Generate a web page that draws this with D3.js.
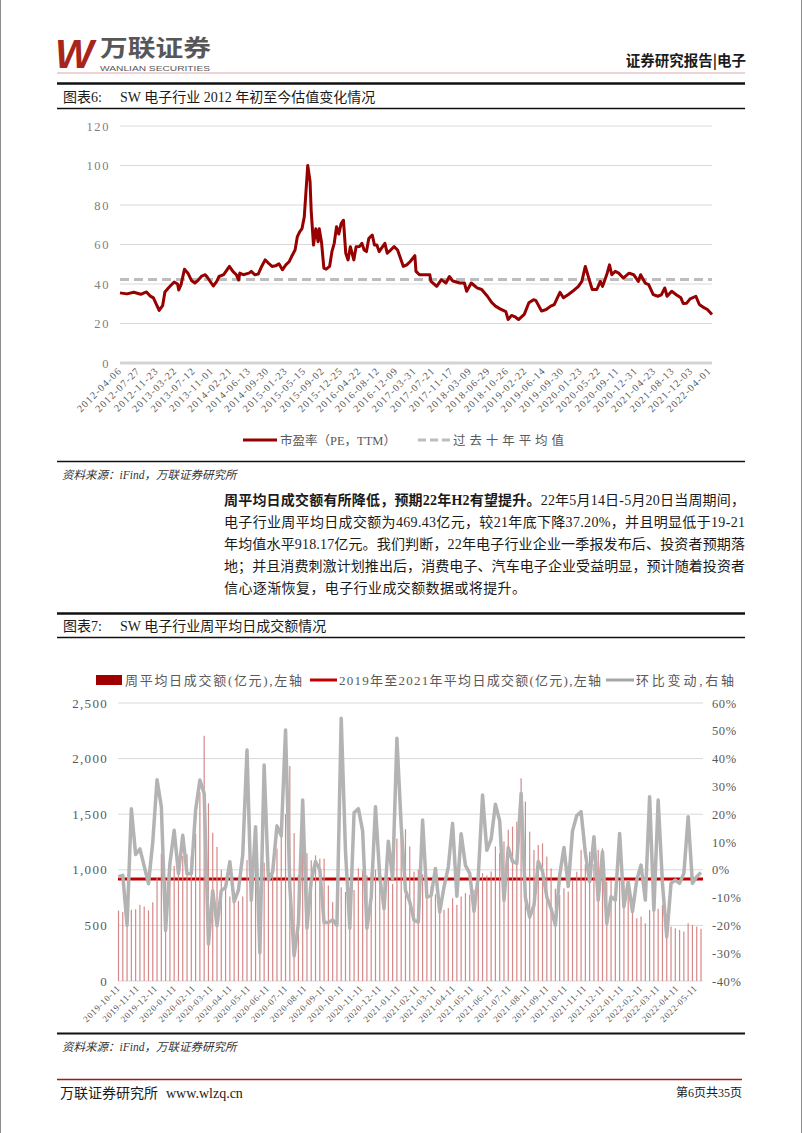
<!DOCTYPE html>
<html><head><meta charset="utf-8">
<script src="https://cdn.jsdelivr.net/npm/d3@7"></script>
<style>
html,body{margin:0;padding:0;background:#fff;}
svg{display:block;}
</style></head><body>
<svg id="page" width="802" height="1133"></svg>
<script>
// ---------------- DATA ----------------
// Chart 6: weekly PE (TTM), category index (weeks from 2012-04-06) and value
const peLabels = ["2012-04-06","2012-07-27","2012-11-23","2013-03-22","2013-07-12","2013-11-01","2014-02-21","2014-06-13","2014-09-30","2015-01-23","2015-05-15","2015-09-02","2015-12-25","2016-04-22","2016-08-12","2016-12-09","2017-03-31","2017-07-21","2017-11-17","2018-03-09","2018-06-29","2018-10-26","2019-02-22","2019-06-14","2019-09-30","2020-01-23","2020-05-22","2020-09-11","2020-12-31","2021-04-23","2021-08-13","2021-12-03","2022-04-01"];
const peLabelStep = 16;
const peLastIndex = 514;
const peWeek = [0,6,12,18,23,26,29,34,37,39,42,47,50,51,53,56,59,62,65,68,71,74,76,81,84,86,90,95,98,101,103,104,107,112,114,117,120,123,126,129,132,135,138,141,144,147,149,152,154,156,158,160,163,165,166,168,170,172,173,175,177,179,182,184,186,188,190,192,194,196,198,200,203,205,208,210,212,214,216,219,221,223,225,228,230,232,235,238,241,243,246,249,252,256,257,260,269,270,275,279,283,286,289,295,299,301,305,310,314,319,323,326,330,335,337,340,343,346,351,355,359,361,366,370,374,377,382,385,389,393,398,401,404,407,410,414,417,419,423,425,427,430,433,437,442,446,450,452,456,459,463,467,470,473,475,479,483,487,489,492,495,500,503,507,510,514];
const peValue = [35.5,35,35.8,34.8,36,34,33,26.6,29,36,38,41,40,37,39.7,47.5,45.5,41.8,40.5,42,44,44.7,43.3,39,41.3,43.8,44.7,48.9,46.4,44.7,42,45.5,44.7,45.5,46.4,44.7,45,48.9,52.2,50.5,48.9,49.2,50.2,47.2,49.7,51.4,53.9,57.2,64,66.4,68,74,100,92,77,59.7,68,61.4,68,61,48,47.5,48.9,56.4,60.6,69,65.3,70.6,72.3,55.6,52.2,58.9,52.2,58.9,59,60.6,57.2,56.4,63,64.8,59.7,59.7,56.4,58.9,60.6,55.6,57.2,58.9,57.2,53.9,48.9,49.7,51.4,54.4,46.4,44.7,44.7,41.3,38.8,42.2,40.5,43.8,41.5,40.5,40.5,36.3,40.5,38,37.2,33.8,30.5,28.8,27.4,26,22,24.1,23.4,22,24.6,30.5,32,31.7,26.3,27.1,28.8,29.6,35.8,33,34.6,36.3,38.8,41.3,48.9,43,37.2,37.2,41.3,38.8,45.5,49.7,44.7,46.4,45.5,43,45.5,44.7,41.3,44.7,40.5,39.7,34.6,33.8,34.5,38,33.8,36.3,34.6,33,30.1,30.3,32.5,33.8,29.6,28,27.1,24.6];
const peMean = 42.3;
const peYTicks = [0,20,40,60,80,100,120];

// Chart 7: weekly average daily turnover (亿元) and week-on-week change (%)
const tradeStart = "2019-10-11";
const tradeValues = [633,620,520,640,645,685,670,635,708,935,
 1145,900,920,1035,1030,1125,1140,1120,1325,1700,
 2205,1598,1333,1206,1000,880,760,740,720,760,
 1088,980,1100,800,1064,1060,1050,1190,1340,1500,
 1934,1330,950,1192,1150,1085,1130,1100,1100,860,
 710,850,843,800,834,818,1013,994,950,980,
 1000,950,900,920,873,1280,1300,1365,1210,983,
 1000,960,900,850,780,720,640,655,745,685,
 760,790,775,820,865,970,950,985,1210,1150,
 1255,1360,1388,1433,1823,1613,1343,1178,1223,1238,
 1118,1013,830,774,834,804,900,983,1178,1050,
 1163,1050,1178,1193,893,900,760,900,908,789,
 700,564,579,519,639,669,650,684,600,489,
 474,459,444,519,504,489,469];
const tradeChange = [-2.5,-2,-20,22,5.5,7.5,1.3,-5,10,32.4,
 22.7,-21.8,2.2,14.2,-1.4,12.4,-1.4,-1.4,21.4,32.3,
 27.5,-26.7,-7.5,-20.1,-7.5,-6.3,2.9,-11.5,-7.3,5.3,
 43.1,-10.9,15.5,-29.8,37.7,-3.7,-0.7,15.8,12.2,50.3,
 -6.1,-31,-19.3,25.1,-21,-4,3,0,-19,-19,
 -18,-20,54.5,6.5,-21,20.5,22,14,-21,-10,
 22.7,-2.6,-14,10.3,-3.2,47.3,16,-7.4,-11.5,-18.2,
 -18.8,17.9,-9.8,-9.2,0.5,-15.2,-6.2,1,16.7,-9.5,
 13,1.6,-1.3,-14.9,-2.3,26.9,7,11,23.6,17.6,
 -11,8,3,2.3,27.5,-10,-17,-12.8,3,-0.5,
 -9.8,-14,-20,-2,8,-6,14,19.5,20.9,6,
 -4.3,11.9,-10.9,6.5,-19.3,-9.7,-10.9,13.1,-13.3,-4.3,
 -15,-3.7,1.7,-10.9,26.3,-14.5,25.1,-4.9,-24.1,-4.9,
 -3.7,-4.9,-1.3,19.1,-4.9,-2.5,-1];
const tradeMean = 918.17;
const tradeLabels = ["2019-10-11","2019-11-11","2019-12-11","2020-01-11","2020-02-11","2020-03-11","2020-04-11","2020-05-11","2020-06-11","2020-07-11","2020-08-11","2020-09-11","2020-10-11","2020-11-11","2020-12-11","2021-01-11","2021-02-11","2021-03-11","2021-04-11","2021-05-11","2021-06-11","2021-07-11","2021-08-11","2021-09-11","2021-10-11","2021-11-11","2021-12-11","2022-01-11","2022-02-11","2022-03-11","2022-04-11","2022-05-11"];
const leftTicks = [0,500,1000,1500,2000,2500];
const rightTicks = [-40,-30,-20,-10,0,10,20,30,40,50,60];

// ---------------- DRAW ----------------
const svg = d3.select("#page");
const SERIF = '"Liberation Serif","Noto Sans CJK SC",serif';
const CJK = '"Noto Sans CJK SC","Liberation Serif",sans-serif';
const TXT = "#595959";

function txt(g, x, y, s, o) {
  const t = g.append("text").attr("x", x).attr("y", y).text(s);
  for (const k in (o || {})) t.attr(k, o[k]);
  return t;
}
function hline(g, x1, x2, y, stroke, w, extra) {
  const l = g.append("line").attr("x1", x1).attr("x2", x2).attr("y1", y).attr("y2", y)
    .attr("stroke", stroke).attr("stroke-width", w);
  for (const k in (extra || {})) l.attr(k, extra[k]);
  return l;
}

// page edges
svg.append("line").attr("x1",0.5).attr("x2",0.5).attr("y1",0).attr("y2",1133).attr("stroke","#8c8c8c");
svg.append("line").attr("x1",801.5).attr("x2",801.5).attr("y1",0).attr("y2",1133).attr("stroke","#8c8c8c");

// header
txt(svg, 55, 68, "W", {"font-family":"Liberation Sans","font-weight":"bold","font-style":"italic","font-size":41,"fill":"#a8251d"});
txt(svg, 100, 55.5, "万联证券", {"font-family":CJK,"font-weight":"bold","font-size":23,"fill":"#575757","textLength":111,"lengthAdjust":"spacingAndGlyphs"});
txt(svg, 100, 70.5, "WANLIAN SECURITIES", {"font-family":"Liberation Sans","font-size":8,"fill":"#575757","textLength":110,"lengthAdjust":"spacingAndGlyphs"});
txt(svg, 746, 66, "证券研究报告|电子", {"font-family":CJK,"font-weight":"bold","font-size":14.5,"fill":"#1a1a1a","text-anchor":"end"});
hline(svg, 57, 745, 73, "#dba9a9", 1);

// ---------- Chart 6 title ----------
hline(svg, 57, 745, 83.5, "#111", 2.5);
txt(svg, 63, 102, "图表6:", {"font-family":SERIF,"font-size":14,"fill":"#1a1a1a"});
txt(svg, 120, 102, "SW 电子行业 2012 年初至今估值变化情况", {"font-family":SERIF,"font-size":14,"fill":"#1a1a1a"});
hline(svg, 57, 745, 108.5, "#111", 1.5);

// ---------- Chart 6 ----------
const c1 = svg.append("g");
const x1 = d3.scaleLinear().domain([0, peLastIndex]).range([120, 712]);
const y1 = d3.scaleLinear().domain([0, 120]).range([363, 126]);

c1.selectAll("line.grid").data(peYTicks.filter(d => d > 0)).join("line")
  .attr("x1", x1(0)).attr("x2", x1(peLastIndex))
  .attr("y1", d => y1(d)).attr("y2", d => y1(d))
  .attr("stroke", "#d9d9d9").attr("stroke-width", 1);
hline(c1, x1(0), x1(peLastIndex), y1(0), "#d4d4d4", 3);

const yAx1 = c1.append("g").attr("transform", "translate(110,0)")
  .call(d3.axisLeft(y1).tickValues(peYTicks).tickSize(0).tickPadding(0));
yAx1.select(".domain").remove();
yAx1.selectAll("text").attr("font-family", SERIF).attr("font-size", 12.5)
  .attr("fill", "#808080").attr("letter-spacing", 1.6);

const peTickIdx = peLabels.map((d, i) => i * peLabelStep);
const xAx1 = c1.append("g").attr("transform", `translate(0,${y1(0) + 5})`)
  .call(d3.axisBottom(x1).tickValues(peTickIdx).tickSize(0).tickPadding(0).tickFormat((d, i) => peLabels[i]));
xAx1.select(".domain").remove();
xAx1.selectAll("text").attr("font-family", SERIF).attr("font-size", 10.2)
  .attr("fill", TXT).attr("letter-spacing", 1.1)
  .attr("text-anchor", "end").attr("y", 0).attr("dy", "0.35em").attr("x", -1)
  .attr("transform", "rotate(-45)");

hline(c1, x1(0), x1(peLastIndex), y1(peMean), "#bdbdbd", 3, {"stroke-dasharray":"9,5"});

const peLine = d3.line().x((d, i) => x1(peWeek[i])).y(d => y1(d));
c1.append("path").attr("d", peLine(peValue)).attr("fill", "none")
  .attr("stroke", "#960000").attr("stroke-width", 3).attr("stroke-linejoin", "round");

// legend 1
hline(c1, 243, 277, 440, "#960000", 3);
txt(c1, 280, 444.5, "市盈率（PE，TTM）", {"font-family":SERIF,"font-size":12.5,"fill":TXT,"textLength":116});
hline(c1, 418, 450, 440, "#bdbdbd", 3, {"stroke-dasharray":"8,4"});
txt(c1, 453, 444.5, "过去十年平均值", {"font-family":SERIF,"font-size":12.5,"fill":TXT,"textLength":111});

hline(svg, 57, 745, 461.5, "#111", 1.5);
txt(svg, 62, 479, "资料来源：iFind，万联证券研究所", {"font-family":SERIF,"font-size":11.5,"font-style":"italic","fill":"#333"});

// ---------- Paragraph ----------
const para = svg.append("g").attr("font-family", SERIF).attr("font-size", 14).attr("fill", "#1a1a1a");
const p1 = para.append("text").attr("x", 224).attr("y", 505).attr("textLength", 521).attr("lengthAdjust", "spacing");
p1.append("tspan").attr("font-weight", "bold").text("周平均日成交额有所降低，预期22年H2有望提升。");
p1.append("tspan").text("22年5月14日-5月20日当周期间，");
txt(para, 224, 527, "电子行业周平均日成交额为469.43亿元，较21年底下降37.20%，并且明显低于19-21", {"textLength":521,"lengthAdjust":"spacing"});
txt(para, 224, 549, "年均值水平918.17亿元。我们判断，22年电子行业企业一季报发布后、投资者预期落", {"textLength":521,"lengthAdjust":"spacing"});
txt(para, 224, 571, "地；并且消费刺激计划推出后，消费电子、汽车电子企业受益明显，预计随着投资者", {"textLength":521,"lengthAdjust":"spacing"});
txt(para, 224, 593, "信心逐渐恢复，电子行业成交额数据或将提升。", {"letter-spacing":0.4});

// ---------- Chart 7 title ----------
hline(svg, 57, 745, 613.5, "#111", 2.5);
txt(svg, 63, 631, "图表7:", {"font-family":SERIF,"font-size":14,"fill":"#1a1a1a"});
txt(svg, 120, 631, "SW 电子行业周平均日成交额情况", {"font-family":SERIF,"font-size":14,"fill":"#1a1a1a"});
hline(svg, 57, 745, 637.5, "#111", 1.5);

// ---------- Chart 7 ----------
const c2 = svg.append("g");
const parse = d3.timeParse("%Y-%m-%d");
const t0 = parse(tradeStart);
const tradeDates = tradeValues.map((v, i) => d3.timeDay.offset(t0, 7 * i));
const x2 = d3.scaleTime().domain([t0, tradeDates[tradeDates.length - 1]]).range([118.5, 701]);
const yL = d3.scaleLinear().domain([0, 2500]).range([981, 703]);
const yR = d3.scaleLinear().domain([-40, 60]).range([981, 703]);
const L2 = 118, R2 = 703;

c2.selectAll("line.grid").data(leftTicks.filter(d => d > 0)).join("line")
  .attr("x1", L2).attr("x2", R2).attr("y1", d => yL(d)).attr("y2", d => yL(d))
  .attr("stroke", "#d9d9d9").attr("stroke-width", 1);
hline(c2, L2, R2, yL(0), "#d9d9d9", 1);

const yAxL = c2.append("g").attr("transform", "translate(108,0)")
  .call(d3.axisLeft(yL).tickValues(leftTicks).tickSize(0).tickPadding(0).tickFormat(d3.format(",")));
yAxL.select(".domain").remove();
yAxL.selectAll("text").attr("font-family", SERIF).attr("font-size", 13)
  .attr("fill", TXT).attr("letter-spacing", 1.3);

const yAxR = c2.append("g").attr("transform", "translate(712,0)")
  .call(d3.axisRight(yR).tickValues(rightTicks).tickSize(0).tickPadding(0).tickFormat(d => d + "%"));
yAxR.select(".domain").remove();
yAxR.selectAll("text").attr("font-family", SERIF).attr("font-size", 12.5)
  .attr("fill", TXT).attr("letter-spacing", 0.6);

const xAx2 = c2.append("g").attr("transform", `translate(0,${yL(0) + 5})`)
  .call(d3.axisBottom(x2).tickValues(tradeLabels.map(parse)).tickSize(0).tickPadding(0)
    .tickFormat(d3.timeFormat("%Y-%m-%d")));
xAx2.select(".domain").remove();
xAx2.selectAll("text").attr("font-family", SERIF).attr("font-size", 9)
  .attr("fill", TXT).attr("letter-spacing", 0.6)
  .attr("text-anchor", "end").attr("y", 0).attr("dy", "0.35em").attr("x", -1)
  .attr("transform", "rotate(-45)");

// mean line (drawn below the thin bars)
hline(c2, L2, R2, yL(tradeMean), "#c00000", 3);

// bars
c2.selectAll("rect.bar").data(tradeValues).join("rect")
  .attr("x", (d, i) => x2(tradeDates[i]) - 0.6).attr("width", 1.2)
  .attr("y", d => yL(d)).attr("height", d => yL(0) - yL(d))
  .attr("fill", "#d58a8a");

// change line
const chgLine = d3.line().x((d, i) => x2(tradeDates[i])).y(d => yR(d));
c2.append("path").attr("d", chgLine(tradeChange)).attr("fill", "none")
  .attr("stroke", "#b3b3b3").attr("stroke-width", 3.5).attr("stroke-linejoin", "round");

// legend 2
c2.append("rect").attr("x", 96).attr("y", 675).attr("width", 26).attr("height", 10).attr("fill", "#a00000");
txt(c2, 125, 685, "周平均日成交额(亿元),左轴", {"font-family":SERIF,"font-size":13,"fill":TXT,"textLength":177});
hline(c2, 310, 337, 680, "#c00000", 3);
txt(c2, 339, 685, "2019年至2021年平均日成交额(亿元),左轴", {"font-family":SERIF,"font-size":13,"fill":TXT,"textLength":262});
hline(c2, 606, 634, 680, "#a6a6a6", 3);
txt(c2, 636, 685, "环比变动,右轴", {"font-family":SERIF,"font-size":13,"fill":TXT,"textLength":98});

hline(svg, 57, 745, 1033.5, "#111", 2);
txt(svg, 62, 1051, "资料来源：iFind，万联证券研究所", {"font-family":SERIF,"font-size":11.5,"font-style":"italic","fill":"#333"});

// footer
hline(svg, 57, 742, 1079.5, "#9e1b1b", 1.5);
txt(svg, 60, 1098, "万联证券研究所", {"font-family":SERIF,"font-size":14,"fill":"#1a1a1a"});
txt(svg, 166, 1098, "www.wlzq.cn", {"font-family":SERIF,"font-size":14,"fill":"#1a1a1a"});
txt(svg, 742, 1097, "第6页共35页", {"font-family":SERIF,"font-size":12,"fill":"#1a1a1a","text-anchor":"end"});
</script>
</body></html>
